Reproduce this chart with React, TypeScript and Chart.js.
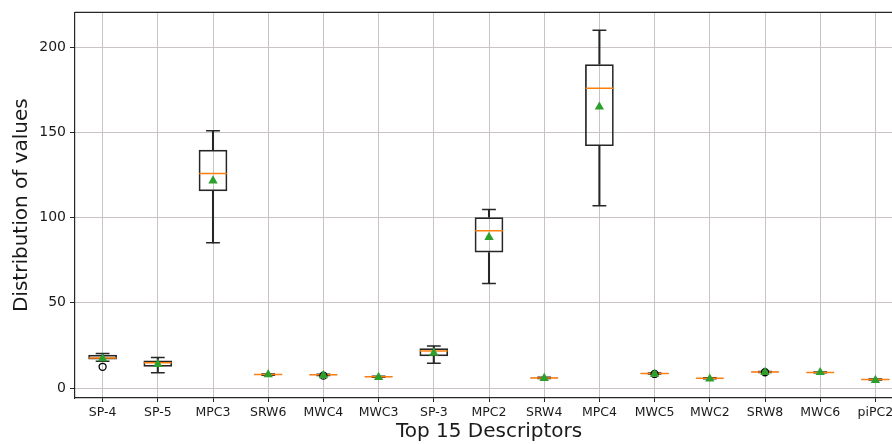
import React, { useEffect, useRef } from "react";
import { Chart, registerables } from "chart.js";

Chart.register(...registerables);

const CATEGORIES = ["SP-4", "SP-5", "MPC3", "SRW6", "MWC4", "MWC3", "SP-3", "MPC2", "SRW4", "MPC4", "MWC5", "MWC2", "SRW8", "MWC6", "piPC2"];
const WHISKER_LOW = [15.8, 9.0, 85.2, 7.6, 7.4, 6.3, 14.6, 61.4, 5.7, 107.0, 8.3, 5.5, 9.2, 9.0, 4.8];
const Q1 = [16.8, 12.5, 115.4, 7.8, 7.6, 6.4, 18.7, 79.5, 5.8, 141.9, 8.4, 5.6, 9.3, 9.1, 4.9];
const MEDIAN = [17.7, 14.8, 125.9, 8.0, 7.8, 6.6, 21.8, 92.2, 6.0, 175.8, 8.6, 5.8, 9.5, 9.2, 5.1];
const Q3 = [19.5, 16.2, 139.8, 8.2, 8.0, 6.8, 23.4, 100.2, 6.2, 189.9, 8.8, 6.0, 9.7, 9.4, 5.3];
const WHISKER_HIGH = [20.3, 17.9, 150.9, 8.3, 8.1, 6.9, 24.7, 104.7, 6.3, 209.8, 8.9, 6.1, 9.8, 9.5, 5.4];
const MEANS = [17.3, 14.0, 121.6, 8.0, 7.4, 6.4, 20.6, 88.5, 5.8, 164.9, 8.2, 5.4, 9.3, 9.2, 4.6];
const OUTLIER_CATS = ["SP-4", "MWC4", "MWC5", "SRW8"];
const OUTLIER_VALUES = [12.5, 7.3, 8.3, 9.3];
const Y_TICKS = [0, 50, 100, 150, 200];
const Y_MIN = -5.8;
const Y_MAX = 220.3;

const FONT = "'DejaVu Sans', sans-serif";
const INK = "#262626";
const GRID = "#c9c3c3";

export default function App() {
  const ref = useRef<HTMLCanvasElement>(null);

  useEffect(() => {
    if (!ref.current) return;

    const boxPlugin = {
      id: "boxParts",
      afterDatasetDraw(chart: any, args: any) {
        if (args.index !== 1) return;
        const { ctx, chartArea } = chart;
        const x = chart.scales.x;
        const y = chart.scales.y;
        const boxW = (x.getPixelForValue(1) - x.getPixelForValue(0)) * 0.5;
        ctx.save();
        ctx.beginPath();
        ctx.rect(chartArea.left, chartArea.top, chartArea.right - chartArea.left, chartArea.bottom - chartArea.top);
        ctx.clip();
        CATEGORIES.forEach((_, i) => {
          const cx = x.getPixelForValue(i);
          ctx.strokeStyle = INK;
          ctx.lineWidth = 1.5;
          [WHISKER_LOW[i], WHISKER_HIGH[i]].forEach((v) => {
            const py = y.getPixelForValue(v);
            ctx.beginPath();
            ctx.moveTo(cx - boxW / 4, py);
            ctx.lineTo(cx + boxW / 4, py);
            ctx.stroke();
          });
          const my = y.getPixelForValue(MEDIAN[i]);
          ctx.strokeStyle = "#ff7f0e";
          ctx.lineWidth = 1.5;
          ctx.beginPath();
          ctx.moveTo(cx - boxW / 2, my);
          ctx.lineTo(cx + boxW / 2, my);
          ctx.stroke();
        });
        ctx.restore();
      },
    };

    const topBorder = {
      id: "topBorder",
      afterDraw(chart: any) {
        const { ctx, chartArea } = chart;
        ctx.save();
        ctx.strokeStyle = INK;
        ctx.lineWidth = 1.2;
        ctx.beginPath();
        ctx.moveTo(chartArea.left, chartArea.top);
        ctx.lineTo(chartArea.right, chartArea.top);
        ctx.stroke();
        ctx.restore();
      },
    };

    const chart = new Chart(ref.current, {
      type: "bar",
      data: {
        labels: CATEGORIES,
        datasets: [
          {
            type: "bar",
            label: "whiskers",
            data: CATEGORIES.map((_, i) => [WHISKER_LOW[i], Q1[i]]),
            backgroundColor: INK,
            borderWidth: 0,
            barThickness: 1.4,
            grouped: false,
            order: 4,
          } as any,
          {
            type: "bar",
            label: "boxes",
            data: CATEGORIES.map((_, i) => [Q1[i], Q3[i]]),
            backgroundColor: "rgba(0,0,0,0)",
            borderColor: INK,
            borderWidth: 1.7,
            borderSkipped: false,
            barPercentage: 0.52,
            categoryPercentage: 1,
            grouped: false,
            order: 3,
          } as any,
          {
            type: "bar",
            label: "whiskersHigh",
            data: CATEGORIES.map((_, i) => [Q3[i], WHISKER_HIGH[i]]),
            backgroundColor: INK,
            borderWidth: 0,
            barThickness: 1.4,
            grouped: false,
            order: 5,
          } as any,
          {
            type: "line",
            label: "outliers",
            data: CATEGORIES.map((c) => {
              const k = OUTLIER_CATS.indexOf(c);
              return k >= 0 ? OUTLIER_VALUES[k] : null;
            }),
            showLine: false,
            pointStyle: "circle",
            pointRadius: 3.5,
            pointBorderWidth: 1.3,
            pointBorderColor: "#000",
            pointBackgroundColor: "rgba(0,0,0,0)",
            order: 1,
          } as any,
          {
            type: "line",
            label: "means",
            data: MEANS,
            showLine: false,
            pointStyle: "triangle",
            pointRadius: 5.4,
            pointBorderWidth: 0,
            pointBackgroundColor: "#2ca02c",
            pointBorderColor: "#2ca02c",
            order: 0,
          } as any,
        ],
      },
      options: {
        responsive: false,
        animation: false,
        events: [],
        layout: { padding: { left: 0, top: 12, right: 17, bottom: 0 } },
        plugins: { legend: { display: false }, tooltip: { enabled: false } },
        scales: {
          x: {
            offset: true,
            grid: { offset: false, color: GRID, lineWidth: 1, tickLength: 4, tickColor: INK, tickWidth: 1 },
            border: { color: INK, width: 1.2 },
            ticks: { color: "#1a1a1a", font: { family: FONT, size: 12.5 }, padding: 3, maxRotation: 0, autoSkip: false },
            title: { display: true, text: "Top 15 Descriptors", color: "#1a1a1a", font: { family: FONT, size: 20 }, padding: { top: 0, bottom: 0 } },
            afterFit: (s: any) => { s.height = 46; },
          },
          y: {
            min: Y_MIN,
            max: Y_MAX,
            grid: { color: GRID, lineWidth: 1, tickLength: 5, tickColor: INK, tickWidth: 1 },
            border: { color: INK, width: 1.2 },
            ticks: { color: "#1a1a1a", font: { family: FONT, size: 14 }, padding: 4 },
            afterBuildTicks: (s: any) => { s.ticks = Y_TICKS.map((v) => ({ value: v })); },
            title: { display: true, text: "Distribution of values", color: "#1a1a1a", font: { family: FONT, size: 20 }, padding: { top: 10, bottom: 0 } },
            afterFit: (s: any) => { s.width = 75; },
          },
        },
      },
      plugins: [boxPlugin, topBorder],
    });

    return () => chart.destroy();
  }, []);

  return (
    <div style={{ position: "fixed", left: 0, top: 0, width: 892, height: 444, overflow: "hidden", background: "#fff" }}>
      <canvas ref={ref} width={920} height={444} style={{ width: 920, height: 444, display: "block" }} />
    </div>
  );
}
